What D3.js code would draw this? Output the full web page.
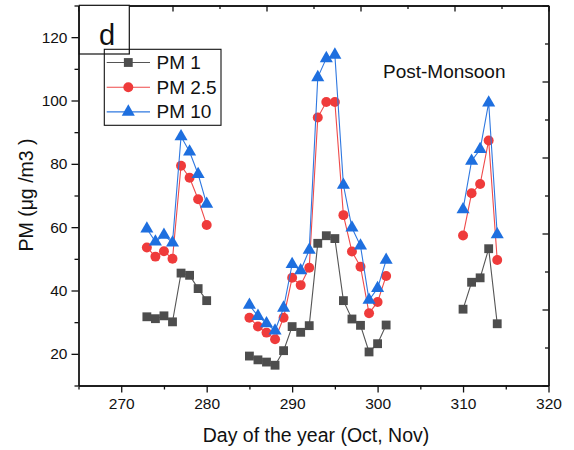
<html>
<head>
<script src="https://d3js.org/d3.v7.min.js"></script>
<style>
  body { margin: 0; background: #fff; }
  text { font-family: Arial, "Liberation Sans", sans-serif; fill: #111; }
  .axis path, .axis line { stroke: #111; stroke-width: 1.3; }
  .axis text { font-size: 15.5px; }
</style>
</head>
<body>
<script>
const days = d3.range(273, 315);
const clusterDays = [273,274,275,276,277,278,279,280,
                     285,286,287,288,289,290,291,292,293,294,295,296,297,298,299,300,301,
                     310,311,312,313,314];
const pm1  = [31.7,31.1,32.0,30.1,45.5,44.8,40.6,36.8,
              19.3,18.1,17.4,16.4,21.0,28.6,26.8,28.9,54.9,57.3,56.4,36.8,31.0,29.0,20.6,23.2,29.1,
              34.1,42.6,44.0,53.2,29.5];
const pm25 = [53.6,50.7,52.4,50.0,79.4,75.6,68.8,60.7,
              31.4,28.6,26.7,24.6,31.4,44.0,41.7,47.2,94.6,99.5,99.5,63.8,52.3,47.5,32.8,36.4,44.6,
              57.4,70.7,73.6,87.4,49.6];
const pm10 = [59.5,55.4,57.5,55.1,88.6,83.8,76.7,67.3,
              35.4,31.9,29.6,27.3,34.5,48.3,46.3,52.8,107.3,113.3,114.4,73.3,59.8,54.1,37.0,40.7,49.6,
              65.6,80.9,84.6,99.3,57.7];
const seriesNames = ['PM 1', 'PM 2.5', 'PM 10'];
const xTicks = [270, 280, 290, 300, 310, 320];
const yTicks = [20, 40, 60, 80, 100, 120];

const colors = {'PM 1': '#4d4d4d', 'PM 2.5': '#ef3b3b', 'PM 10': '#1e6fdf'};
const lineColors = {'PM 1': '#555', 'PM 2.5': '#ef4a4a', 'PM 10': '#2f78e0'};

const svg = d3.select('body').append('svg').attr('width', 574).attr('height', 450);

const pLeft = 78.5, pRight = 548.5, pTop = 5.5, pBottom = 385.5;

const x = d3.scaleLinear().domain([265, 320]).range([pLeft, pRight]);
const y = d3.scaleLinear().domain([10, 130]).range([pBottom, pTop]);

// full series on every day, null where missing
function fill(vals) {
  return days.map(d => {
    const i = clusterDays.indexOf(d);
    return {day: d, v: i < 0 ? null : vals[i]};
  });
}
const series = [
  {name: seriesNames[0], data: fill(pm1), shape: d3.symbolSquare, size: 78},
  {name: seriesNames[1], data: fill(pm25), shape: d3.symbolCircle, size: 78},
  {name: seriesNames[2], data: fill(pm10), shape: d3.symbolTriangle, size: 74}
];

// bottom axis
svg.append('g').attr('class', 'axis')
  .attr('transform', `translate(0,${pBottom})`)
  .call(d3.axisBottom(x).tickValues(xTicks).tickSize(7).tickPadding(5).tickSizeOuter(0));
svg.append('g').attr('class', 'axis')
  .attr('transform', `translate(0,${pBottom})`)
  .call(d3.axisBottom(x).tickValues([265,275,285,295,305,315]).tickSize(4).tickFormat('').tickSizeOuter(0));

// left axis
svg.append('g').attr('class', 'axis')
  .attr('transform', `translate(${pLeft},0)`)
  .call(d3.axisLeft(y).tickValues(yTicks).tickSize(7).tickPadding(4).tickSizeOuter(0));
svg.append('g').attr('class', 'axis')
  .attr('transform', `translate(${pLeft},0)`)
  .call(d3.axisLeft(y).tickValues([10,30,50,70,90,110,130]).tickSize(4).tickFormat('').tickSizeOuter(0));

// top and right frame axes (own divisions, inward ticks)
const xTop = d3.scaleLinear().domain([0, 5]).range([pLeft, pRight]);
const yRight = d3.scaleLinear().domain([0, 5]).range([pBottom, pTop]);
svg.append('g').attr('class', 'axis')
  .attr('transform', `translate(0,${pTop})`)
  .call(d3.axisTop(xTop).tickValues(d3.range(0, 6)).tickSize(-6).tickFormat('').tickSizeOuter(0));
svg.append('g').attr('class', 'axis')
  .attr('transform', `translate(0,${pTop})`)
  .call(d3.axisTop(xTop).tickValues(d3.range(0.5, 5, 1)).tickSize(-3.5).tickFormat('').tickSizeOuter(0));
svg.append('g').attr('class', 'axis')
  .attr('transform', `translate(${pRight},0)`)
  .call(d3.axisRight(yRight).tickValues(d3.range(0, 6)).tickSize(-6).tickFormat('').tickSizeOuter(0));
svg.append('g').attr('class', 'axis')
  .attr('transform', `translate(${pRight},0)`)
  .call(d3.axisRight(yRight).tickValues(d3.range(0.5, 5, 1)).tickSize(-3.5).tickFormat('').tickSizeOuter(0));

// lines and markers
const line = d3.line().defined(d => d.v !== null).x(d => x(d.day)).y(d => y(d.v));
series.forEach(s => {
  svg.append('path')
    .datum(s.data)
    .attr('fill', 'none')
    .attr('stroke', lineColors[s.name])
    .attr('stroke-width', 1.1)
    .attr('d', line);
  svg.append('g').selectAll('path')
    .data(s.data.filter(d => d.v !== null))
    .join('path')
    .attr('transform', d => `translate(${x(d.day)},${y(d.v)})`)
    .attr('d', d3.symbol().type(s.shape).size(s.size))
    .attr('fill', colors[s.name]);
});

// panel label box
svg.append('rect')
  .attr('x', 79.3).attr('y', 5.3).attr('width', 50).attr('height', 48.7)
  .attr('fill', '#fff').attr('stroke', '#111').attr('stroke-width', 1.2);
svg.append('text').attr('x', 107).attr('y', 45)
  .attr('text-anchor', 'middle').style('font-size', '29px').text('d');

// legend
const lg = svg.append('g');
lg.append('rect')
  .attr('x', 104.3).attr('y', 49.3).attr('width', 116.7).attr('height', 76)
  .attr('fill', 'none').attr('stroke', '#111').attr('stroke-width', 1.1);
series.forEach((s, i) => {
  const ly = 62.5 + i * 24.7;
  lg.append('line').attr('x1', 106.7).attr('x2', 150).attr('y1', ly).attr('y2', ly)
    .attr('stroke', lineColors[s.name]).attr('stroke-width', 1.1);
  lg.append('path').attr('transform', `translate(128.3,${ly})`)
    .attr('d', d3.symbol().type(s.shape).size(s.size)).attr('fill', colors[s.name]);
  lg.append('text').attr('x', 156.5).attr('y', ly + 6.5)
    .style('font-size', '19px').text(s.name);
});

svg.append('text').attr('x', 383).attr('y', 77.5)
  .style('font-size', '19px').text('Post-Monsoon');

// axis titles
svg.append('text').attr('x', 316).attr('y', 442)
  .attr('text-anchor', 'middle').style('font-size', '19.5px')
  .text('Day of the year (Oct, Nov)');
svg.append('text')
  .attr('transform', 'translate(33,195) rotate(-90)')
  .attr('text-anchor', 'middle').style('font-size', '19.5px')
  .text('PM (μg /m3 )');
</script>
</body>
</html>
